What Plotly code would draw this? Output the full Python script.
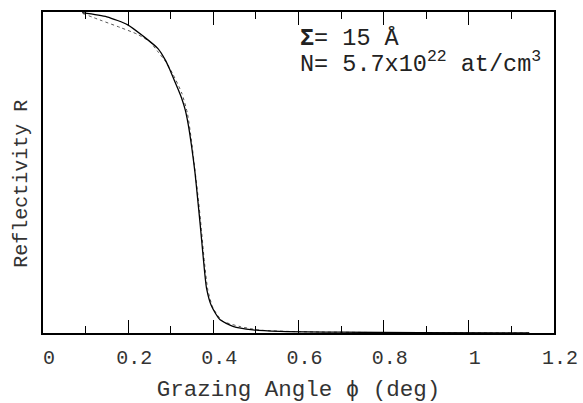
import plotly.graph_objects as go

# Solid curve (fit)
fit_angle = [0.092, 0.150, 0.199, 0.235, 0.270, 0.287, 0.298, 0.308, 0.317, 0.326,
             0.334, 0.341, 0.349, 0.357, 0.363, 0.369, 0.376, 0.384, 0.396, 0.416,
             0.446, 0.493, 0.556, 0.697, 0.884, 1.142]
fit_refl = [0.998, 0.985, 0.960, 0.925, 0.886, 0.851, 0.820, 0.788, 0.760, 0.730,
            0.695, 0.650, 0.581, 0.499, 0.420, 0.340, 0.240, 0.140, 0.083, 0.041,
            0.021, 0.010, 0.005, 0.0025, 0.001, 0.0003]

# Dotted curve (data)
dat_angle = [0.094, 0.134, 0.181, 0.221, 0.251, 0.270, 0.289, 0.306, 0.326, 0.339,
             0.349, 0.357, 0.365, 0.372, 0.379, 0.387, 0.399, 0.421, 0.463, 0.509,
             0.603, 0.837, 1.142]
dat_refl = [0.995, 0.975, 0.952, 0.931, 0.907, 0.876, 0.844, 0.804, 0.747, 0.685,
            0.596, 0.506, 0.415, 0.322, 0.222, 0.135, 0.079, 0.038, 0.020, 0.009,
            0.004, 0.001, 0.0]

x_tickvals = [0, 0.2, 0.4, 0.6, 0.8, 1.0, 1.2]
x_ticktext = ["0", "0.2", "0.4", "0.6", "0.8", "1", "1.2"]

FONT = "Liberation Mono, Courier New, monospace"

fig = go.Figure()
fig.add_trace(go.Scatter(x=dat_angle, y=dat_refl, mode="lines",
                         line=dict(color="#555555", width=1, dash="dot", shape="spline", smoothing=0.6),
                         showlegend=False))
fig.add_trace(go.Scatter(x=fit_angle, y=fit_refl, mode="lines",
                         line=dict(color="black", width=1.3, shape="spline", smoothing=0.6),
                         showlegend=False))

fig.update_layout(
    width=583, height=403,
    margin=dict(l=43, r=29, t=12, b=70),
    plot_bgcolor="white", paper_bgcolor="white",
    font=dict(family=FONT, color="#222222"),
    xaxis=dict(range=[0, 1.2], tickvals=x_tickvals, ticktext=x_ticktext,
               ticks="inside", ticklen=13, tickwidth=1.2, tickcolor="black",
               minor=dict(ticks="inside", ticklen=7, dtick=0.1, tickwidth=1.2, tickcolor="black"),
               showline=True, linecolor="black", linewidth=1.5, mirror="ticks",
               showgrid=False, zeroline=False, automargin=False,
               tickfont=dict(size=20, family=FONT, color="#333333"),
               ticklabelstandoff=5, ticklabelshift=6,
               title=dict(text="Grazing Angle ϕ (deg)", font=dict(size=22.5, family=FONT, color="#333333"))),
    yaxis=dict(range=[0, 1.0], showticklabels=False, ticks="",
               showline=True, linecolor="black", linewidth=1.5, mirror=True,
               showgrid=False, zeroline=False, automargin=False),
)

fig.add_annotation(x=-0.041, y=0.465, xref="paper", yref="y domain",
                   text="Reflectivity R", textangle=-90, showarrow=False,
                   xanchor="center", yanchor="middle",
                   font=dict(size=20, family=FONT, color="#333333"))
fig.add_annotation(x=0.499, y=0.918, xref="x domain", yref="y domain",
                   text="<b>Σ</b>= 15 Å", showarrow=False, xanchor="left", yanchor="middle",
                   font=dict(size=23.5, family=FONT, color="#222222"))
fig.add_annotation(x=0.499, y=0.843, xref="x domain", yref="y domain",
                   text="N= 5.7x10<sup>22</sup> at/cm<sup>3</sup>", showarrow=False,
                   xanchor="left", yanchor="middle",
                   font=dict(size=23.5, family=FONT, color="#222222"))

fig.write_html("out.html", post_script="document.body.style.margin='0';",
               config={"displayModeBar": False})
